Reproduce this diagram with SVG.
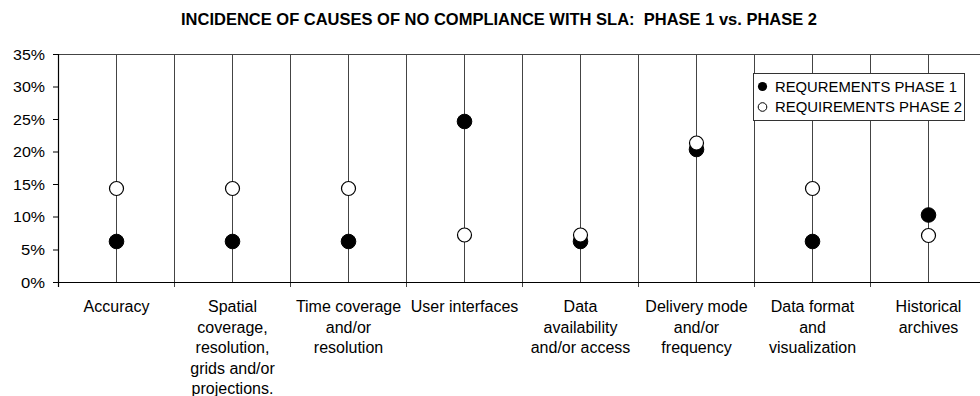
<svg xmlns="http://www.w3.org/2000/svg" width="980" height="396" viewBox="0 0 980 396">
  <style>
    .title { font-family: "Liberation Sans", Arial, sans-serif; font-size: 16.5px; font-weight: bold; fill: #000; white-space: pre; }
    .ylab { font-family: "Liberation Sans", Arial, sans-serif; font-size: 14.5px; fill: #000; text-anchor: end; }
    .cat { font-family: "Liberation Sans", Arial, sans-serif; font-size: 16px; fill: #000; text-anchor: middle; }
    .leg { font-family: "Liberation Sans", Arial, sans-serif; font-size: 14.5px; fill: #000; }
    .axis { stroke: #000; stroke-width: 1.2; fill: none; }
    .grid { stroke: #444; stroke-width: 1; fill: none; }
    .drop { stroke: #444; stroke-width: 1; fill: none; }
    .p1 { fill: #000; stroke: #000; stroke-width: 1; }
    .p2 { fill: #fff; stroke: #000; stroke-width: 1.2; }
  </style>

  <rect width="980" height="396" fill="#fff"/>

  <text class="title" x="181" y="24.5" textLength="636" lengthAdjust="spacingAndGlyphs" xml:space="preserve">INCIDENCE OF CAUSES OF NO COMPLIANCE WITH SLA:  PHASE 1 vs. PHASE 2</text>

  <!-- plot frame: top line at 35%, category separators with ticks below the axis -->
  <g id="gridlines">
    <line class="grid" x1="58.5" y1="54.5" x2="980" y2="54.5"/>
    <line class="grid" x1="174.5" y1="54.5" x2="174.5" y2="287"/>
    <line class="grid" x1="290.5" y1="54.5" x2="290.5" y2="287"/>
    <line class="grid" x1="406.5" y1="54.5" x2="406.5" y2="287"/>
    <line class="grid" x1="522.5" y1="54.5" x2="522.5" y2="287"/>
    <line class="grid" x1="638.5" y1="54.5" x2="638.5" y2="287"/>
    <line class="grid" x1="754.5" y1="54.5" x2="754.5" y2="287"/>
    <line class="grid" x1="870.5" y1="54.5" x2="870.5" y2="287"/>
  </g>

  <!-- per-category drop lines -->
  <g id="connectors">
    <line class="drop" x1="116.5" y1="54.5" x2="116.5" y2="282"/>
    <line class="drop" x1="232.5" y1="54.5" x2="232.5" y2="282"/>
    <line class="drop" x1="348.5" y1="54.5" x2="348.5" y2="282"/>
    <line class="drop" x1="464.5" y1="54.5" x2="464.5" y2="282"/>
    <line class="drop" x1="580.5" y1="54.5" x2="580.5" y2="282"/>
    <line class="drop" x1="696.5" y1="54.5" x2="696.5" y2="282"/>
    <line class="drop" x1="812.5" y1="54.5" x2="812.5" y2="282"/>
    <line class="drop" x1="928.5" y1="54.5" x2="928.5" y2="282"/>
  </g>

  <!-- axes -->
  <g id="axes">
    <line class="axis" x1="58.5" y1="54" x2="58.5" y2="287"/>
    <line class="axis" x1="58" y1="282.5" x2="980" y2="282.5"/>
    <path class="axis" d="M53 54.5H58.5M53 87H58.5M53 119.5H58.5M53 152H58.5M53 184.5H58.5M53 217H58.5M53 250H58.5M53 282.5H58.5"/>
  </g>

  <g id="y-labels">
    <text class="ylab" x="45" y="59.5" textLength="32" lengthAdjust="spacingAndGlyphs">35%</text>
    <text class="ylab" x="45" y="92" textLength="32" lengthAdjust="spacingAndGlyphs">30%</text>
    <text class="ylab" x="45" y="124.5" textLength="32" lengthAdjust="spacingAndGlyphs">25%</text>
    <text class="ylab" x="45" y="157" textLength="32" lengthAdjust="spacingAndGlyphs">20%</text>
    <text class="ylab" x="45" y="189.5" textLength="32" lengthAdjust="spacingAndGlyphs">15%</text>
    <text class="ylab" x="45" y="222" textLength="32" lengthAdjust="spacingAndGlyphs">10%</text>
    <text class="ylab" x="45" y="255" textLength="24" lengthAdjust="spacingAndGlyphs">5%</text>
    <text class="ylab" x="45" y="287.5" textLength="24" lengthAdjust="spacingAndGlyphs">0%</text>
  </g>

  <g id="series-phase1">
    <circle class="p1" cx="116.5" cy="241.5" r="7.3"/>
    <circle class="p1" cx="232.5" cy="241.5" r="7.3"/>
    <circle class="p1" cx="348.5" cy="241.5" r="7.3"/>
    <circle class="p1" cx="464.5" cy="121.5" r="7.3"/>
    <circle class="p1" cx="580.5" cy="241.5" r="7.3"/>
    <circle class="p1" cx="696.5" cy="149.5" r="7.3"/>
    <circle class="p1" cx="812.5" cy="241.5" r="7.3"/>
    <circle class="p1" cx="928.5" cy="215" r="7.3"/>
  </g>

  <g id="series-phase2">
    <circle class="p2" cx="116.5" cy="188.5" r="7"/>
    <circle class="p2" cx="232.5" cy="188.5" r="7"/>
    <circle class="p2" cx="348.5" cy="188.5" r="7"/>
    <circle class="p2" cx="464.5" cy="235" r="7"/>
    <circle class="p2" cx="580.5" cy="235" r="7"/>
    <circle class="p2" cx="696.5" cy="143" r="7"/>
    <circle class="p2" cx="812.5" cy="188.5" r="7"/>
    <circle class="p2" cx="928.5" cy="235.5" r="7"/>
  </g>

  <g id="category-labels">
    <text class="cat" x="116.5" y="312.3">Accuracy</text>
    <text class="cat" x="232.5" y="312.3">Spatial<tspan x="232.5" dy="20.5">coverage,</tspan><tspan x="232.5" dy="20.5">resolution,</tspan><tspan x="232.5" dy="20.5">grids and/or</tspan><tspan x="232.5" dy="20.5">projections.</tspan></text>
    <text class="cat" x="348.5" y="312.3">Time coverage<tspan x="348.5" dy="20.5">and/or</tspan><tspan x="348.5" dy="20.5">resolution</tspan></text>
    <text class="cat" x="464.5" y="312.3">User interfaces</text>
    <text class="cat" x="580.5" y="312.3">Data<tspan x="580.5" dy="20.5">availability</tspan><tspan x="580.5" dy="20.5">and/or access</tspan></text>
    <text class="cat" x="696.5" y="312.3">Delivery mode<tspan x="696.5" dy="20.5">and/or</tspan><tspan x="696.5" dy="20.5">frequency</tspan></text>
    <text class="cat" x="812.5" y="312.3">Data format<tspan x="812.5" dy="20.5">and</tspan><tspan x="812.5" dy="20.5">visualization</tspan></text>
    <text class="cat" x="928.5" y="312.3">Historical<tspan x="928.5" dy="20.5">archives</tspan></text>
  </g>

  <g id="legend">
    <rect x="753.5" y="73.5" width="211" height="47" fill="#fff" stroke="#333" stroke-width="1"/>
    <circle cx="762.5" cy="86.5" r="4.6" fill="#000"/>
    <text class="leg" x="775" y="91.5" textLength="182" lengthAdjust="spacingAndGlyphs">REQUREMENTS PHASE 1</text>
    <circle cx="762.5" cy="107" r="4.3" fill="#fff" stroke="#000" stroke-width="1"/>
    <text class="leg" x="775" y="112" textLength="187" lengthAdjust="spacingAndGlyphs">REQUIREMENTS PHASE 2</text>
  </g>
</svg>
